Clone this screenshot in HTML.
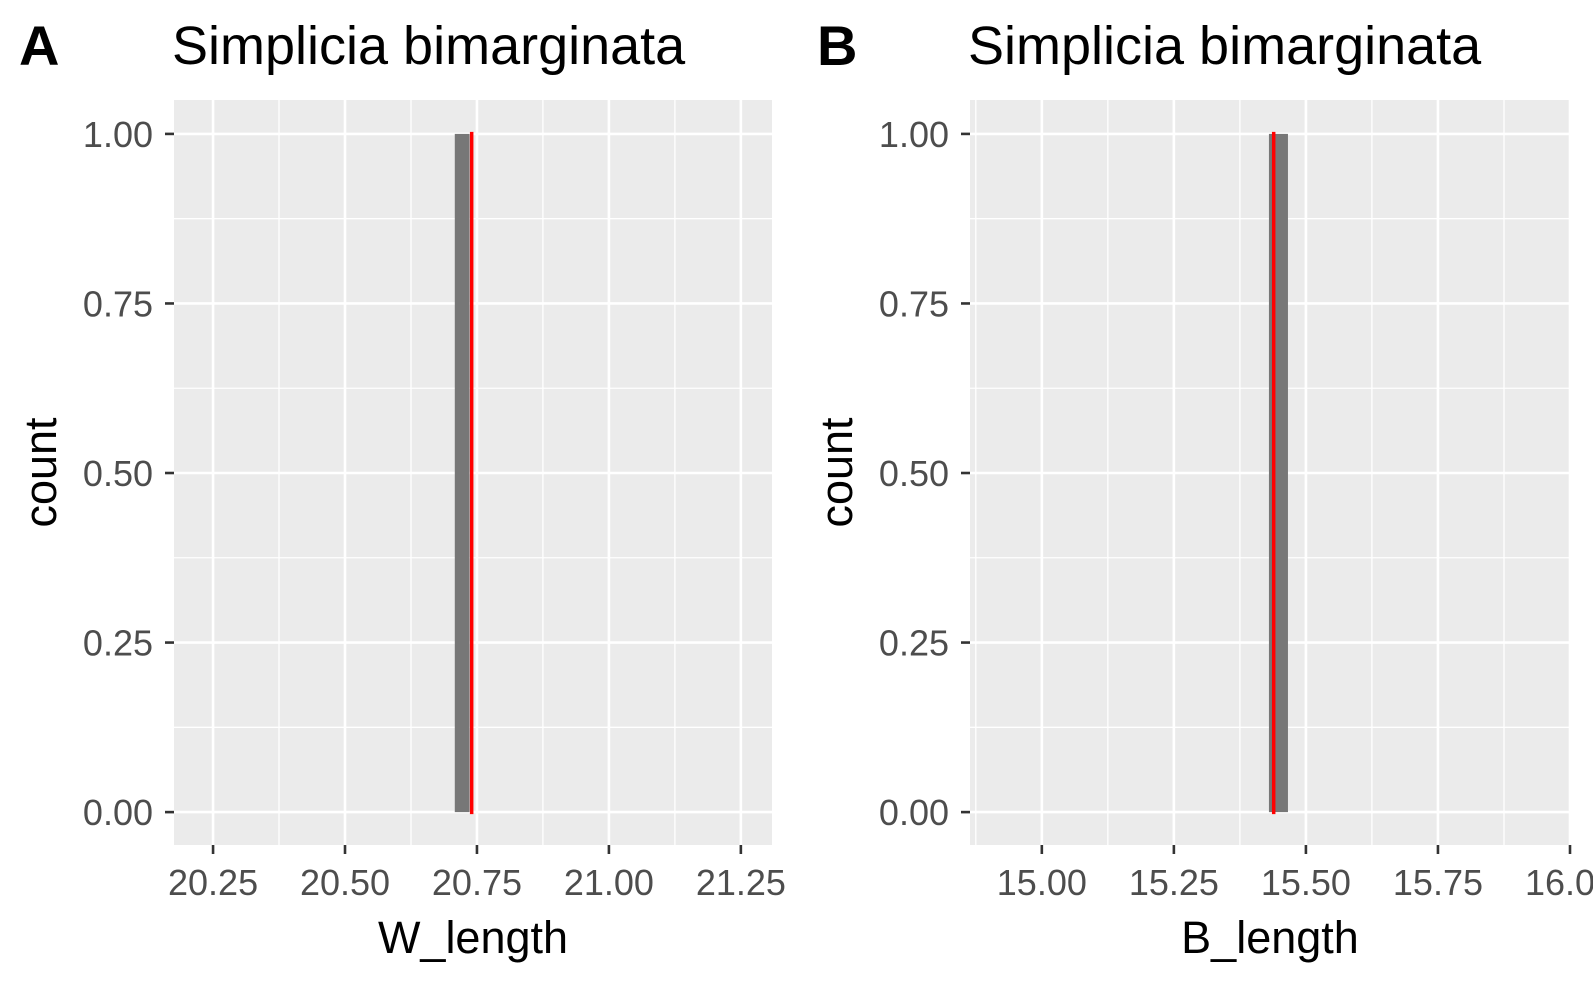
<!DOCTYPE html>
<html><head><meta charset="utf-8"><style>
html,body{margin:0;padding:0;background:#fff}
svg{display:block;font-family:"Liberation Sans",Arial,sans-serif}
</style></head><body>
<svg id="chart" width="1593" height="984"></svg>
<script>
const panelLabels = ["A", "B"];
const panelTitles = ["Simplicia bimarginata", "Simplicia bimarginata"];
const xTitles = ["W_length", "B_length"];
const yTicks = [0, 0.25, 0.5, 0.75, 1.0];
const yTickLabels = ["0.00", "0.25", "0.50", "0.75", "1.00"];
const xTicksA = [20.25, 20.5, 20.75, 21.0, 21.25];
const xTickLabelsA = ["20.25", "20.50", "20.75", "21.00", "21.25"];
const xTicksB = [15.0, 15.25, 15.5, 15.75, 16.0];
const xTickLabelsB = ["15.00", "15.25", "15.50", "15.75", "16.00"];
const barCenters = [20.722, 15.448];
const barWidths = [0.028, 0.036];
const barCounts = [1, 1];
const meanLines = [20.74, 15.439];

const NS = "http://www.w3.org/2000/svg";
const svg = document.getElementById("chart");
function mk(tag, attrs, parent) {
  const e = document.createElementNS(NS, tag);
  for (const k in attrs) e.setAttribute(k, attrs[k]);
  (parent || svg).appendChild(e);
  return e;
}
const panels = [
  {x0:174, x1:772, dom:[20.176, 21.309], ticks:xTicksA, labels:xTickLabelsA, lx:19, tx:172},
  {x0:970, x1:1570, dom:[14.864, 16.0], ticks:xTicksB, labels:xTickLabelsB, lx:817, tx:968}
];
const yTop = 100, yBot = 845, yDom = [-0.0485, 1.05];
function Y(v){ return yBot - (v - yDom[0])/(yDom[1]-yDom[0])*(yBot-yTop); }

panels.forEach((p, i) => {
  const X = v => p.x0 + (v - p.dom[0])/(p.dom[1]-p.dom[0])*(p.x1-p.x0);
  const g = mk("g", {});
  
  
  const bg = mk("rect", {x:p.x0, y:yTop, width:p.x1-p.x0, height:yBot-yTop, fill:"#ebebeb"}, g);
  
  
  const step = p.ticks[1]-p.ticks[0];
  for (let v = p.ticks[0] - step*1.5; v <= p.dom[1]; v += step) {
    if (v < p.dom[0]) continue;
    const l = mk("line", {x1:X(v), x2:X(v), y1:yTop, y2:yBot, stroke:"#fff", "stroke-width":1.3}, g);
    
    
  }
  for (let k = 0; k < yTicks.length; k++) {
    const v = yTicks[k] - 0.125;
    if (v > yDom[0]) {
      const l = mk("line", {x1:p.x0, x2:p.x1, y1:Y(v), y2:Y(v), stroke:"#fff", "stroke-width":1.3}, g);
      
      
    }
  }
  p.ticks.forEach((v, k) => {
    const l = mk("line", {x1:X(v), x2:X(v), y1:yTop, y2:yBot, stroke:"#fff", "stroke-width":2.6}, g);
    
    
    const t = mk("line", {x1:X(v), x2:X(v), y1:yBot, y2:yBot+9, stroke:"#333", "stroke-width":2.6}, g);
    
    
    const tx = mk("text", {x:X(v), y:895, "font-size":36, fill:"#4d4d4d", "text-anchor":"middle"}, g);
    tx.textContent = p.labels[k];
    
    
  });
  yTicks.forEach((v, k) => {
    const l = mk("line", {x1:p.x0, x2:p.x1, y1:Y(v), y2:Y(v), stroke:"#fff", "stroke-width":2.6}, g);
    
    
    const t = mk("line", {x1:p.x0-9, x2:p.x0, y1:Y(v), y2:Y(v), stroke:"#333", "stroke-width":2.6}, g);
    
    
    const tx = mk("text", {x:p.x0-21, y:Y(v)+13, "font-size":36, fill:"#4d4d4d", "text-anchor":"end"}, g);
    tx.textContent = yTickLabels[k];
    
    
  });
  const bx = X(barCenters[i]-barWidths[i]/2), bw = X(barCenters[i]+barWidths[i]/2) - bx;
  const bar = mk("rect", {x:bx, y:Y(barCounts[i]), width:bw, height:Y(0)-Y(barCounts[i]), fill:"#777"}, g);
  
  
  const ml = mk("line", {x1:X(meanLines[i]), x2:X(meanLines[i]), y1:Y(barCounts[i])-2, y2:Y(0)+2, stroke:"#ff0000", "stroke-width":3.5}, g);
  
  
  const pl = mk("text", {x:p.lx, y:65, "font-size":56, "font-weight":"bold", fill:"#000"}, g);
  pl.textContent = panelLabels[i];
  
  
  const ti = mk("text", {x:p.tx, y:64, "font-size":54, fill:"#000"}, g);
  ti.textContent = panelTitles[i];
  
  
  const xt = mk("text", {x:(p.x0+p.x1)/2, y:953, "font-size":45, fill:"#000", "text-anchor":"middle"}, g);
  xt.textContent = xTitles[i];
  
  
  const yx = p.x0 - 118, yy = (yTop+yBot)/2;
  const yt = mk("text", {x:yx, y:yy, "font-size":45, fill:"#000", "text-anchor":"middle", transform:`rotate(-90 ${yx} ${yy})`}, g);
  yt.textContent = "count";
  
  
});
</script>
</body></html>
